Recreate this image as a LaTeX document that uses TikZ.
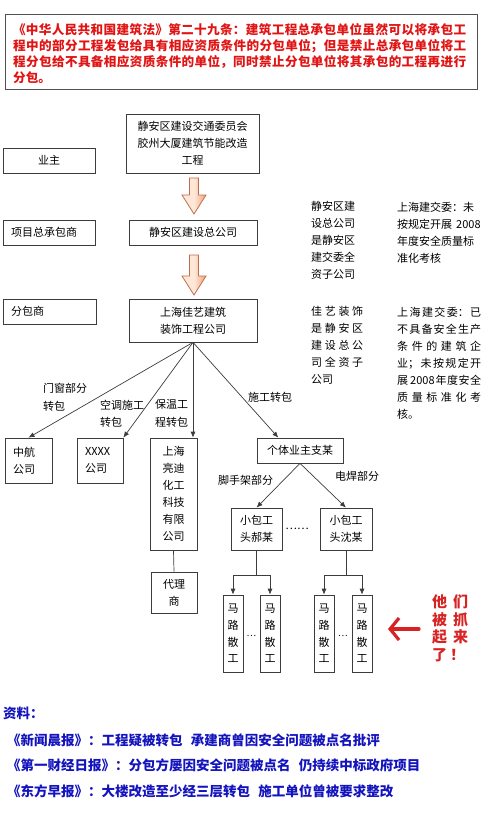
\documentclass[tikz,border=0pt]{standalone}
\usepackage{fontspec}
\setmainfont{Noto Sans CJK SC}
\XeTeXlinebreaklocale "zh"
\XeTeXlinebreakskip=0pt plus 3pt
\usetikzlibrary{arrows.meta,calc}
\definecolor{lawred}{RGB}{225,20,20}
\definecolor{srcblue}{RGB}{20,20,190}
\definecolor{boxline}{RGB}{60,60,60}
\definecolor{arrowedge}{RGB}{190,110,80}
\definecolor{arrowfillA}{RGB}{253,232,215}
\definecolor{arrowfillB}{RGB}{242,160,118}
\definecolor{handred}{RGB}{215,35,35}
\tikzset{
  box/.style={draw=boxline, line width=0.7pt, inner sep=0pt, align=center,
              font=\fontsize{11}{17}\selectfont},
  lbox/.style={box, align=left, inner xsep=8pt, inner ysep=0pt},
  wbox/.style={box, minimum width=20pt, minimum height=77pt,
               font=\fontsize{11}{16.7}\selectfont},
  lbl/.style={inner sep=0pt, align=left, font=\fontsize{11}{17.5}\selectfont},
  sidetxt/.style={inner sep=0pt, anchor=north west, align=left,
                  font=\fontsize{11}{17}\selectfont},
  conn/.style={draw=boxline, line width=0.7pt, -{Latex[length=6pt,width=5pt]}},
  plainconn/.style={draw=boxline, line width=0.7pt},
  barrowstyle/.style={draw=arrowedge, line width=0.8pt, left color=arrowfillA,
                      right color=arrowfillB, middle color=arrowfillA}
}
\newcommand\blockarrow[4]{%
  \path[barrowstyle] (#1-4.5,#2) -- (#1+4.5,#2) -- (#1+4.5,#3) -- (#1+12,#3)
    -- (#1,#4) -- (#1-12,#3) -- (#1-4.5,#3) -- cycle;}
\begin{document}
\begin{tikzpicture}[x=1pt,y=-1pt]
\useasboundingbox (0,0) rectangle (490,821);

% law text
\node[draw={rgb,255:red,80;green,80;blue,80}, line width=1pt, minimum width=472pt,
      minimum height=75pt, inner sep=0pt] (lawbox) at (241,52.5) {};
\node[anchor=north west, inner sep=0pt, text width=453pt, align=justify, text=lawred,
      font=\bfseries\fontsize{12.6}{15.7}\selectfont] (law) at (13,23.7)
 {《中华人民共和国建筑法》第二十九条：建筑工程总承包单位虽然可以将承包工\linebreak
  程中的部分工程发包给具有相应资质条件的分包单位；但是禁止总承包单位将工\linebreak
  程分包给不具备相应资质条件的单位，同时禁止分包单位将其承包的工程再进行\linebreak
  分包。};

% left role boxes
\node[box, minimum width=92pt, minimum height=25pt] (yezhu) at (49,160.5) {业主};
\node[lbox, text width=76pt, minimum height=25pt] (pm) at (49,232.5) {项目总承包商};
\node[lbox, text width=77pt, minimum height=25pt] (fbs) at (49.5,311.5) {分包商};

% main chain
\node[box, minimum width=133pt, minimum height=59pt] (top) at (192.5,143.5)
  {静安区建设交通委员会\\胶州大厦建筑节能改造\\工程};
\node[box, minimum width=128pt, minimum height=25pt] (gc) at (193,232.5) {静安区建设总公司};
\node[box, minimum width=128pt, minimum height=43pt] (jy) at (193,320.5)
  {上海佳艺建筑\\装饰工程公司};

\blockarrow{194}{178}{195}{214}
\blockarrow{194}{255}{276}{295}

% side notes
\node[sidetxt] (n1) at (311,201.5) {静安区建\\设总公司\\是静安区\\建交委全\\资子公司};
\node[sidetxt] (n2) at (397,201.5) {上海建交委：未\\按规定开展\hspace{4pt}2008\\年度安全质量标\\准化考核};
\node[sidetxt, text width=52pt, align=justify] (n3) at (311,306.5)
  {佳艺装饰\linebreak 是静安区\linebreak 建设总公\linebreak 司全资子\linebreak 公司};
\node[sidetxt, text width=84pt, align=justify] (n4) at (397,306.5)
  {上海建交委：已\linebreak 不具备安全生产\linebreak 条件的建筑企\linebreak 业；未按规定开\linebreak 展\hspace{2pt}2008\hspace{1pt}年度安全\linebreak 质量标准化考\linebreak 核。};

% second tier
\node[lbox, text width=31pt, minimum height=45pt] (zh) at (28.5,460.5) {中航\\公司};
\node[lbox, text width=30pt, minimum height=45pt] (xx) at (100,460.5) {XXXX\\公司};
\node[box, minimum width=47pt, minimum height=112pt] (ld) at (173.5,494)
  {上海\\亮迪\\化工\\科技\\有限\\公司};
\node[box, minimum width=46pt, minimum height=41pt] (dl) at (174,592.5) {代理\\商};
\node[box, minimum width=86pt, minimum height=25pt] (gt) at (300,450.5) {个体业主支某};

\path[conn] (jy.south) -- (zh.north);
\path[conn] (jy.south) -- (xx.north east);
\path[conn] (jy.south) -- (jy.south |- ld.north);
\path[conn] (jy.south) -- ($(gt.north west)!0.25!(gt.north east)$);
\path[plainconn] (ld.south) -- (dl.north);

\node[lbl, anchor=north west] (l1) at (43,383.5) {门窗部分\\转包};
\node[lbl, anchor=north west] (l2) at (100,399.5) {空调施工\\转包};
\node[lbl, anchor=north west] (l3) at (155,399.5) {保温工\\程转包};
\node[lbl, anchor=north west] (l4) at (248,392.5) {施工转包};

% third tier
\node[box, minimum width=51pt, minimum height=42pt] (hao) at (256.5,529) {小包工\\头郝某};
\node[box, minimum width=52pt, minimum height=42pt] (shen) at (346,529) {小包工\\头沈某};
\path[conn] (gt.south) -- (hao.north);
\path[conn] (gt.south) -- (shen.north);
\node[lbl, anchor=north west] (l5) at (218,475.5) {脚手架部分};
\node[lbl, anchor=north west] (l6) at (335,471.5) {电焊部分};
\node[lbl] (dots1) at (297,529) {……};

% workers
\node[wbox] (w1) at (233,633.5) {马\\路\\散\\工};
\node[wbox] (w2) at (270,633.5) {马\\路\\散\\工};
\node[wbox] (w3) at (324,633.5) {马\\路\\散\\工};
\node[wbox] (w4) at (362,633.5) {马\\路\\散\\工};
\coordinate (j1) at ($(hao.south)+(0,25)$);
\coordinate (j2) at ($(shen.south)+(0,25)$);
\path[plainconn] (hao.south) -- (j1);
\path[plainconn] (shen.south) -- (j2);
\path[conn] (j1) -| (w1.north);
\path[conn] (j1) -| (w2.north);
\path[conn] (j2) -| (w3.north);
\path[conn] (j2) -| (w4.north);
\node[lbl, font=\fontsize{9}{10}\selectfont] (dots2) at (251.5,636) {…};
\node[lbl, font=\fontsize{9}{10}\selectfont] (dots3) at (343,636) {…};

% red arrow and note
\coordinate (ra1) at (419,629);
\coordinate (ra2) at (388,629);
\draw[handred, line width=3.2pt, line cap=round,
      -{Straight Barb[length=9pt,width=22pt,line width=3.2pt]}] (ra1) -- (ra2);
\node[inner sep=0pt, anchor=north west, align=left, text=handred,
      font=\bfseries\fontsize{15}{17.7}\selectfont] (caught) at (432,594.5)
  {他\hspace{6pt}们\\被\hspace{6pt}抓\\起\hspace{6pt}来\\了\hspace{3pt}！};

% sources
\node[inner sep=0pt, anchor=west, text=srcblue, font=\bfseries\fontsize{13.5}{16}\selectfont]
  (src0) at (3,713) {资料：};
\node[inner sep=0pt, anchor=west, text=srcblue, font=\bfseries\fontsize{13.5}{16}\selectfont]
  (src1) at (7,740) {《新闻晨报》：工程疑被转包\hspace{0.6em}承建商曾因安全问题被点名批评};
\node[inner sep=0pt, anchor=west, text=srcblue, font=\bfseries\fontsize{13.5}{16}\selectfont]
  (src2) at (7,765) {《第一财经日报》：分包方屡因安全问题被点名\hspace{0.6em}仍持续中标政府项目};
\node[inner sep=0pt, anchor=west, text=srcblue, font=\bfseries\fontsize{13.5}{16}\selectfont]
  (src3) at (7,791) {《东方早报》：大楼改造至少经三层转包\hspace{0.6em}施工单位曾被要求整改};
\end{tikzpicture}
\end{document}
